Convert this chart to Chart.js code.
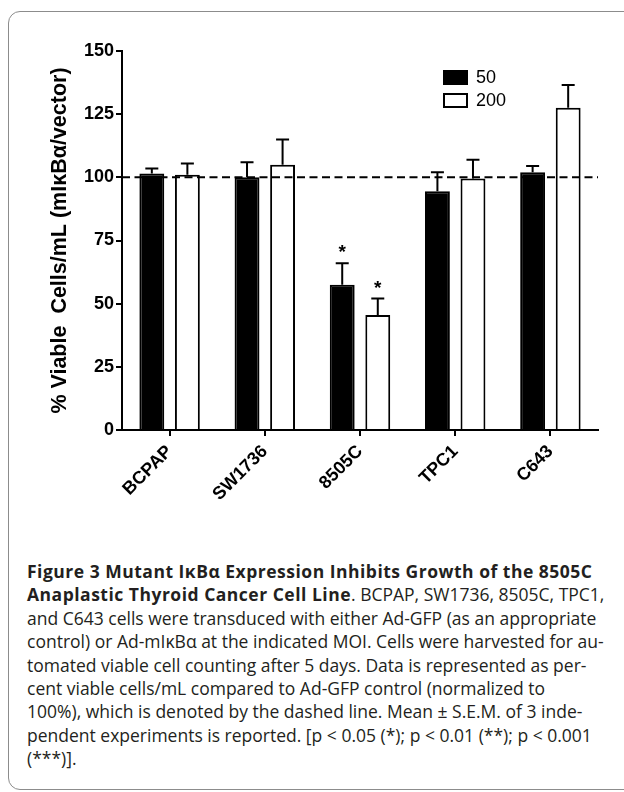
<!DOCTYPE html>
<html><head><meta charset="utf-8">
<script src="https://cdn.jsdelivr.net/npm/chart.js@4.4.0/dist/chart.umd.min.js"></script>
<style>
html,body{margin:0;padding:0;background:#fff;width:624px;height:792px;overflow:hidden;}
#frame{position:absolute;left:8px;top:11px;width:650px;height:779px;border:1px solid #8c8c8c;border-radius:12px;box-sizing:border-box;}
#wrap{position:absolute;left:0;top:0;width:624px;height:520px;}
#cap{position:absolute;left:27px;top:560px;font-family:"Open Sans",sans-serif;font-size:17.5px;line-height:23.4px;color:#231f20;}
#cap div{white-space:nowrap;}
#cap b{letter-spacing:0.5px;}
</style></head>
<body>
<div id="frame"></div>
<div id="wrap"><canvas id="c"></canvas></div>
<div id="cap">
<div><b>Figure 3 Mutant IκBα Expression Inhibits Growth of the 8505C</b></div>
<div><b>Anaplastic Thyroid Cancer Cell Line</b>. BCPAP, SW1736, 8505C, TPC1,</div>
<div>and C643 cells were transduced with either Ad-GFP (as an appropriate</div>
<div>control) or Ad-mIκBα at the indicated MOI. Cells were harvested for au-</div>
<div>tomated viable cell counting after 5 days. Data is represented as per-</div>
<div>cent viable cells/mL compared to Ad-GFP control (normalized to</div>
<div>100%), which is denoted by the dashed line. Mean ± S.E.M. of 3 inde-</div>
<div>pendent experiments is reported. [p &lt; 0.05 (*); p &lt; 0.01 (**); p &lt; 0.001</div>
<div>(***)].</div>
</div>
<script>
const categories = ['BCPAP', 'SW1736', '8505C', 'TPC1', 'C643'];
const moi50 = [101.5, 100, 57.5, 94.5, 102];
const moi50Err = [2, 6, 8.5, 7.5, 2.5];
const moi200 = [101, 105, 45.5, 99.5, 127.5];
const moi200Err = [4.5, 10, 6.5, 7.5, 9];
const sig50 = ['', '', '*', '', ''];
const sig200 = ['', '', '*', '', ''];
const yTicks = [0, 25, 50, 75, 100, 125, 150];
const referenceLine = 100;
const seriesLabels = ['50', '200'];
const yTitle = '% Viable  Cells/mL (mIκBα/vector)';

const errs = [moi50Err, moi200Err];
const sigs = [sig50, sig200];
const FONT = '"Liberation Sans", Arial, sans-serif';

const extras = {
  id: 'extras',
  afterDatasetsDraw(chart) {
    const ctx = chart.ctx, ys = chart.scales.y, a = chart.chartArea;
    ctx.save();
    const ry = ys.getPixelForValue(referenceLine);
    ctx.strokeStyle = '#000'; ctx.lineWidth = 2; ctx.setLineDash([8, 4.5]);
    ctx.beginPath(); ctx.moveTo(a.left, ry); ctx.lineTo(a.right, ry); ctx.stroke();
    ctx.setLineDash([]);
    chart.data.datasets.forEach((ds, i) => {
      const meta = chart.getDatasetMeta(i);
      meta.data.forEach((el, j) => {
        const v = ds.data[j], e = errs[i][j];
        const top = ys.getPixelForValue(v + e);
        ctx.beginPath();
        ctx.moveTo(el.x, el.y); ctx.lineTo(el.x, top);
        ctx.moveTo(el.x - 6.5, top); ctx.lineTo(el.x + 6.5, top);
        ctx.stroke();
        if (sigs[i][j]) {
          ctx.fillStyle = '#000'; ctx.font = 'bold 19px ' + FONT;
          ctx.textAlign = 'center'; ctx.textBaseline = 'alphabetic';
          ctx.fillText(sigs[i][j], el.x, top - 5);
        }
      });
    });
    const lx = a.left + 321;
    const rows = [70, 93];
    chart.data.datasets.forEach((ds, i) => {
      const y0 = rows[i];
      ctx.fillStyle = ds.backgroundColor;
      ctx.fillRect(lx, y0, 25, 15);
      ctx.strokeStyle = '#000'; ctx.lineWidth = 2;
      ctx.strokeRect(lx + 1, y0 + 1, 23, 13);
      ctx.fillStyle = '#000'; ctx.font = '18px ' + FONT;
      ctx.textAlign = 'left'; ctx.textBaseline = 'middle';
      ctx.fillText(ds.label, lx + 33, y0 + 8);
    });
    ctx.restore();
  }
};

new Chart(document.getElementById('c'), {
  type: 'bar',
  data: {
    labels: categories,
    datasets: [
      { label: seriesLabels[0], data: moi50, backgroundColor: '#000', borderColor: '#000', borderWidth: 2,
        categoryPercentage: 0.747, barPercentage: 0.7 },
      { label: seriesLabels[1], data: moi200, backgroundColor: '#fff', borderColor: '#000', borderWidth: 2,
        categoryPercentage: 0.747, barPercentage: 0.7 }
    ]
  },
  options: {
    responsive: true, maintainAspectRatio: false, animation: false,
    layout: { padding: { left: 37, top: 51, right: 26, bottom: 0 } },
    plugins: { legend: { display: false }, tooltip: { enabled: false } },
    scales: {
      x: {
        afterFit(s) { s.height = 90; },
        grid: { drawOnChartArea: false, offset: false, tickLength: 6, color: '#000', lineWidth: 2 },
        border: { display: true, color: '#000', width: 2 },
        ticks: { color: '#000', font: { family: FONT, size: 18, weight: 'bold' }, minRotation: 45, maxRotation: 45, padding: 5 }
      },
      y: {
        min: 0, max: 150,
        afterFit(s) { s.width = 85; },
        afterBuildTicks(s) { s.ticks = yTicks.map(v => ({ value: v })); },
        grid: { drawOnChartArea: false, tickLength: 6, color: '#000', lineWidth: 2 },
        border: { display: true, color: '#000', width: 2 },
        ticks: { color: '#000', font: { family: FONT, size: 18, weight: 'bold' }, padding: 2 },
        title: { display: true, text: yTitle, color: '#000', font: { family: FONT, size: 21.5, weight: 'bold' }, padding: { top: 10, bottom: 0 } }
      }
    }
  },
  plugins: [extras]
});
</script>
</body></html>
